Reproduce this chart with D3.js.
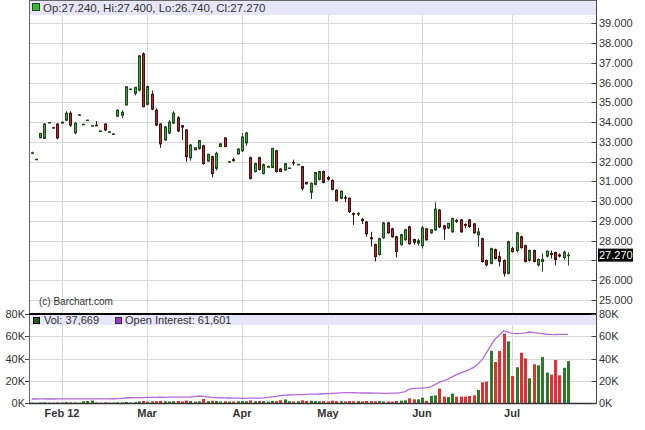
<!DOCTYPE html>
<html><head><meta charset="utf-8">
<script src="https://cdn.jsdelivr.net/npm/d3@7"></script>
<style>
body{margin:0;background:#fff}
svg{display:block}
text{font-family:"Liberation Sans",Arial,Helvetica,sans-serif}
</style>
</head><body>
<svg id="chart" width="645" height="430"></svg>
<script>
// ---------------- DATA ----------------
const opens = [32.45,32.12,33.21,33.18,33.97,33.72,33.9,33.95,34.1,34.45,
33.46,34.37,33.89,34.1,33.82,33.84,33.55,33.9,33.51,33.4,
34.3,34.35,34.87,35.66,35.46,35.62,37.45,34.9,35.4,34.6,
33.9,33.1,33.45,33.95,34.22,33.82,33.6,32.2,32.6,32.67,
32.8,32.03,32.25,31.66,32.76,33.2,32.0,32.1,32.39,32.55,
32.95,32.2,31.5,32.2,31.4,31.72,31.71,32.55,31.63,31.58,
31.68,31.96,31.86,31.75,30.95,30.45,30.85,31.1,31.5,31.2,
31.05,30.55,30.15,30.18,30.15,29.37,29.35,29.08,28.95,28.15,
27.8,27.3,28.15,28.9,28.6,28.2,27.8,28.05,28.7,28.06,
27.88,27.75,28.6,28.4,28.55,29.55,28.75,28.65,28.45,29.02,
29.05,28.82,29.05,28.85,28.3,28.1,27.0,26.85,27.55,27.19,
27.0,26.35,27.6,27.5,28.2,27.75,27.0,27.5,26.78,26.95,
27.22,27.35,27.4,27.28,27.15,27.24];
const highs = [32.5,32.15,33.45,33.95,34.0,33.74,33.95,34.02,34.55,34.55,
34.0,34.4,33.92,34.12,33.85,34.05,33.58,33.95,33.54,33.43,
34.65,34.6,35.8,35.7,35.78,37.4,37.53,35.85,35.6,34.7,
33.95,33.8,34.1,34.55,34.3,33.85,33.65,32.9,32.72,33.1,
32.85,32.4,32.3,32.5,32.92,33.22,32.03,32.2,32.66,33.45,
33.5,32.25,31.95,32.25,31.9,31.8,32.7,32.6,31.66,31.92,
31.7,32.1,31.88,31.78,30.97,30.95,31.45,31.52,31.55,31.28,
31.1,30.6,30.55,30.3,30.18,29.42,29.45,29.15,29.0,28.45,
27.85,28.15,28.95,28.95,28.65,28.25,28.35,28.6,28.75,28.1,
28.1,28.75,28.65,28.58,29.95,29.6,28.8,28.9,29.15,29.1,
29.1,28.88,29.1,28.9,28.65,28.15,27.05,27.65,27.6,27.45,
27.05,28.0,27.7,28.45,28.25,27.8,27.55,27.55,27.1,27.36,
27.5,27.5,27.45,27.35,27.5,27.4];
const lows = [32.4,32.1,33.18,33.15,33.95,33.7,33.13,33.94,34.05,33.75,
33.4,34.35,33.87,34.08,33.8,33.8,33.52,33.55,33.49,33.38,
34.28,34.2,34.85,35.62,35.35,35.55,34.75,34.85,34.6,33.8,
32.7,33.05,33.4,33.9,33.5,33.1,32.0,32.05,32.58,32.6,
31.85,32.0,31.2,31.55,32.74,32.74,31.97,32.0,32.37,32.5,
32.8,31.1,31.45,31.55,31.35,31.7,31.68,31.45,31.48,31.55,
31.66,31.8,31.84,30.55,30.85,30.1,30.8,31.05,30.9,31.03,
30.55,30.0,30.1,29.95,29.4,28.8,29.25,28.85,28.2,27.7,
26.95,27.25,28.1,28.35,28.15,27.15,27.75,28.0,27.8,27.8,
27.75,27.6,28.0,28.35,28.5,28.65,28.05,28.6,28.4,28.9,
28.4,28.63,28.65,28.35,27.7,26.9,26.7,26.8,27.05,26.7,
26.18,26.3,27.4,27.4,27.6,26.9,26.95,26.9,26.7,26.43,
27.15,27.1,26.75,27.15,27.05,26.74];
const closes = [32.45,32.12,33.43,33.9,33.98,33.71,33.2,34.0,34.45,33.85,
33.94,34.37,33.89,34.1,33.82,33.82,33.55,33.6,33.51,33.4,
34.6,34.5,35.79,35.67,35.76,37.35,34.78,35.8,34.66,33.85,
32.9,33.75,34.0,34.45,33.55,33.75,32.25,32.84,32.7,33.06,
31.9,32.37,31.4,32.42,32.9,32.76,32.0,32.05,32.64,33.25,
33.45,31.15,31.9,31.6,31.85,31.76,32.67,31.5,31.5,31.9,
31.68,31.95,31.86,30.65,30.88,30.9,31.45,31.5,30.95,31.12,
30.6,30.02,30.5,30.15,29.47,29.33,29.38,29.02,28.35,28.1,
27.2,28.1,28.9,28.4,28.2,27.45,28.3,28.55,27.85,27.92,
28.0,28.65,28.05,28.55,29.6,28.7,28.6,28.88,29.13,28.98,
28.45,28.78,28.72,28.4,28.45,26.95,26.78,27.6,27.1,26.96,
26.35,27.95,27.45,28.4,27.65,26.95,27.5,26.95,27.05,27.05,
27.47,27.3,27.05,27.22,27.42,27.27];
const volumes = [300,250,500,600,300,300,500,400,700,600,
500,300,1500,1800,2200,400,300,600,300,300,
600,500,900,400,700,1300,1800,1200,1400,1600,
1900,1500,1300,1600,1800,1400,2200,1700,1200,1500,
3600,1600,2000,1800,1300,1500,1200,1300,1500,1700,
1600,2300,1500,1800,1600,1200,1900,1700,2500,3200,
1600,1400,1500,2400,1800,2000,1700,1500,1600,1300,
2100,1600,1500,1400,1700,1500,1600,1400,1800,1600,
1500,1700,1400,1300,1200,1700,2100,2400,4200,3300,
3300,4800,2000,6300,6900,12900,5700,5400,8400,5700,
5700,5700,6300,6900,11700,18600,19200,47000,36900,46700,
62300,55400,24300,32100,45200,40100,22200,34800,33900,41300,
27300,25500,38700,24900,31700,37669];
const openInterest = [3600,3600,3650,3650,3600,3600,3650,3700,3700,3700,
3650,3650,3700,3700,3650,3650,3700,3750,3750,3800,
3900,4200,4500,4700,4800,4800,4900,5000,5100,5100,
5200,5100,5200,5300,5200,5200,5300,5400,5800,6300,
6000,5500,5000,4800,4700,4600,4500,4400,4300,4200,
4200,4300,4300,4400,4600,5000,5500,6000,6600,7000,
7200,7300,7500,7600,7800,7900,8000,8100,8300,8500,
8700,8900,9100,9300,9300,9200,9100,9000,9100,9000,
8900,8800,8700,8700,8800,8900,9300,10200,12500,13200,
13300,13500,13800,14500,16500,18500,20000,21500,23500,25500,
27000,28500,30000,32000,35000,39000,45000,51500,57500,61000,
65000,63800,62600,62300,62600,63000,63800,63200,62800,62300,
61800,61600,61500,61700,61600,61601];
const priceTicks = [25,26,27,28,29,30,31,32,33,34,35,36,37,38,39];
const volTicks = [0,20000,40000,60000,80000];
const monthLabels = ["Feb 12","Mar","Apr","May","Jun","Jul"];
const monthIndex = [7,27,49,69,91,112];
const lastPrice = 27.27;

// ---------------- LAYOUT ----------------
const svg = d3.select("#chart");
const L = 29, R = 596.5;
const N = closes.length;
const x = d3.scaleLinear().domain([0, N-1]).range([31.6, 568]);
const y = d3.scaleLinear().domain([25, 39]).range([300, 23.3]);
const yv = d3.scaleLinear().domain([0, 80000]).range([403, 314]);
const px = i => Math.round(x(i));
const GRID = "#d9d9d9";
const TXT = "#333";

svg.append("rect").attr("width",645).attr("height",430).attr("fill","#fff");

// gridlines
svg.append("g").selectAll("line").data(priceTicks).join("line")
  .attr("x1",L).attr("x2",R)
  .attr("y1",d=>Math.round(y(d))+0.5).attr("y2",d=>Math.round(y(d))+0.5)
  .attr("stroke",GRID);
svg.append("g").selectAll("line").data(volTicks.filter(d=>d>0&&d<80000)).join("line")
  .attr("x1",L).attr("x2",R)
  .attr("y1",d=>Math.round(yv(d))+0.5).attr("y2",d=>Math.round(yv(d))+0.5)
  .attr("stroke",GRID);
svg.append("g").selectAll("line").data(monthIndex).join("line")
  .attr("x1",d=>px(d)+0.5).attr("x2",d=>px(d)+0.5)
  .attr("y1",14).attr("y2",403)
  .attr("stroke",GRID);

// legend bands
svg.append("rect").attr("x",L).attr("y",0).attr("width",R-L).attr("height",15).attr("fill","#e6e6f8");
svg.append("rect").attr("x",L).attr("y",315).attr("width",R-L).attr("height",10).attr("fill","#e6e6f8");

// ---------------- CANDLES ----------------
const cg = svg.append("g");
const idx = d3.range(N);
const up = i => closes[i] >= opens[i];
cg.selectAll("line").data(idx).join("line")
  .attr("x1",i=>px(i)+0.5).attr("x2",i=>px(i)+0.5)
  .attr("y1",i=>y(highs[i])).attr("y2",i=>y(lows[i]))
  .attr("stroke",i=>up(i)?"#1d4a1d":"#4a1010").attr("stroke-width",1);
cg.selectAll("rect").data(idx).join("rect")
  .attr("x",i=>px(i)-0.5).attr("width",2)
  .attr("y",i=>y(Math.max(opens[i],closes[i])))
  .attr("height",i=>Math.max(0.5,Math.abs(y(opens[i])-y(closes[i]))))
  .attr("fill",i=>up(i)?"#40a040":"#a83030")
  .attr("stroke",i=>up(i)?"#1d4a1d":"#4a1010").attr("stroke-width",1);

// ---------------- VOLUME ----------------
svg.append("g").selectAll("rect").data(idx).join("rect")
  .attr("x",i=>px(i)-1).attr("width",3)
  .attr("y",i=>yv(volumes[i])).attr("height",i=>yv(0)-yv(volumes[i]))
  .attr("fill",i=>up(i)?"#2a7a2a":"#e03030");

svg.append("path").datum(idx)
  .attr("d",d3.line().x(i=>x(i)).y(i=>yv(openInterest[i])))
  .attr("fill","none").attr("stroke","#b468dc").attr("stroke-width",1.3);

// ---------------- FRAME & AXES ----------------
svg.append("line").attr("x1",L+0.5).attr("x2",L+0.5).attr("y1",0).attr("y2",404).attr("stroke","#666");
svg.append("line").attr("x1",L).attr("x2",R).attr("y1",0.5).attr("y2",0.5).attr("stroke","#666");
svg.append("line").attr("x1",L).attr("x2",R).attr("y1",314).attr("y2",314).attr("stroke","#000").attr("stroke-width",2);
svg.append("line").attr("x1",L).attr("x2",R).attr("y1",403.5).attr("y2",403.5).attr("stroke","#333").attr("stroke-width",1.5);

// right price axis
svg.append("g").selectAll("line").data(priceTicks).join("line")
  .attr("x1",R-5).attr("x2",R).attr("y1",d=>Math.round(y(d))+0.5).attr("y2",d=>Math.round(y(d))+0.5)
  .attr("stroke","#444");
svg.append("line").attr("x1",R).attr("x2",R).attr("y1",0).attr("y2",404).attr("stroke","#444");

// volume axes
const kfmt = d => (d/1000) + "K";
const va = svg.append("g");
volTicks.forEach(d => {
  const yy = Math.round(yv(d)) + 0.5;
  va.append("line").attr("x1",R-5).attr("x2",R).attr("y1",yy).attr("y2",yy).attr("stroke","#444");
  va.append("line").attr("x1",L-4).attr("x2",L).attr("y1",yy).attr("y2",yy).attr("stroke","#444");
  va.append("text").attr("x",599).attr("y",yv(d)+4).attr("font-size",11).attr("fill",TXT).text(kfmt(d));
  va.append("text").attr("x",25).attr("y",yv(d)+4).attr("font-size",11).attr("fill",TXT)
    .attr("text-anchor","end").text(kfmt(d));
});

// price labels
const pl = svg.append("g");
priceTicks.filter(d => Math.abs(d - lastPrice) > 0.5).forEach(d => {
  pl.append("text").attr("x",599).attr("y",y(d)+4)
    .attr("font-size",11).attr("fill",TXT).text(d3.format(".3f")(d));
});
pl.append("rect").attr("x",598).attr("y",y(lastPrice)-6.5).attr("width",35).attr("height",13).attr("fill","#000");
pl.append("text").attr("x",599).attr("y",y(lastPrice)+4).attr("font-size",11).attr("fill","#fff")
  .text(d3.format(".3f")(lastPrice));

// date axis
svg.append("g").selectAll("text").data(monthIndex).join("text")
  .attr("x",d=>px(d)).attr("y",417).attr("text-anchor","middle")
  .attr("font-size",11).attr("font-weight","bold").attr("fill",TXT)
  .text((d,k)=>monthLabels[k]);

// ---------------- LEGENDS ----------------
const fmt3 = d3.format(".3f");
const li = N-1;
svg.append("rect").attr("x",32.5).attr("y",3.5).attr("width",7).attr("height",7).attr("fill","#33bb33").attr("stroke","#1d4a1d");
svg.append("text").attr("x",43).attr("y",12).attr("font-size",11.5).attr("fill",TXT)
  .text(`Op:${fmt3(opens[li])}, Hi:${fmt3(highs[li])}, Lo:${fmt3(lows[li])}, Cl:${fmt3(closes[li])}`);

svg.append("rect").attr("x",33.5).attr("y",317.5).attr("width",6).attr("height",6).attr("fill","#1e5e1e").attr("stroke","#000");
svg.append("text").attr("x",44).attr("y",324).attr("font-size",11).attr("fill",TXT)
  .text("Vol: " + d3.format(",")(volumes[li]));
svg.append("rect").attr("x",115.5).attr("y",317.5).attr("width",6).attr("height",6).attr("fill","#9933cc").attr("stroke","#333");
svg.append("text").attr("x",125).attr("y",324).attr("font-size",11).attr("fill",TXT)
  .text("Open Interest: " + d3.format(",")(openInterest[li]));

svg.append("text").attr("x",39).attr("y",305).attr("font-size",10).attr("fill",TXT).text("(c) Barchart.com");
</script>
</body></html>
